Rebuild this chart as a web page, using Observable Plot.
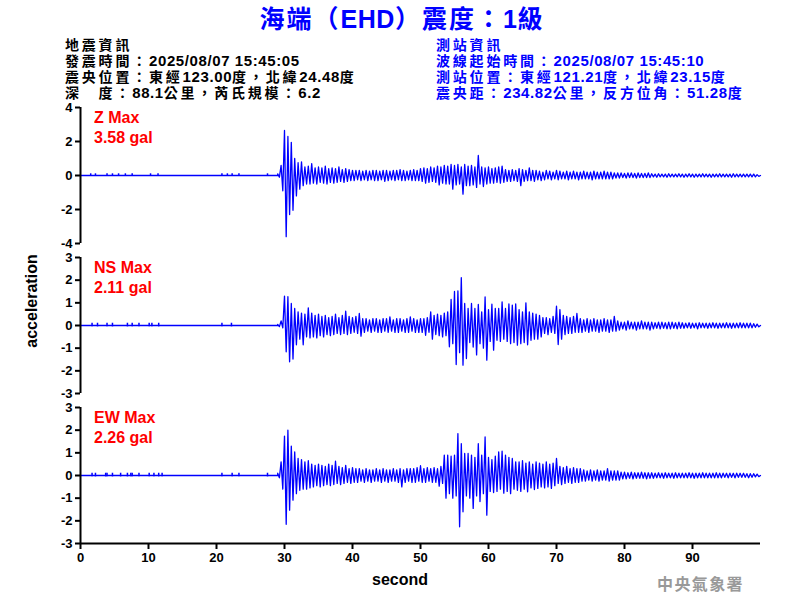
<!DOCTYPE html>
<html>
<head>
<meta charset="utf-8">
<script src="https://cdn.jsdelivr.net/npm/d3@7"></script>
<script src="https://cdn.jsdelivr.net/npm/@observablehq/plot@0.6"></script>
<style>
  html, body { margin: 0; padding: 0; background: #fff; }
  #root { position: relative; width: 800px; height: 600px; overflow: hidden; font-family: "Liberation Sans", Arial, "Noto Sans CJK TC", sans-serif; }
  .abs { position: absolute; white-space: nowrap; }
  .title { font-size: 25px; font-weight: bold; color: #0000ff; line-height: 30px; }
  .info { font-size: 15px; font-weight: bold; line-height: 16px; height: 16px; }
  .info span { display: inline-block; height: 16px; line-height: 16px; vertical-align: baseline; overflow: visible; }
  .info .cjk { font-family: "Noto Sans CJK TC", sans-serif; font-size: 14px; letter-spacing: 2.8px; }
  .cjk { font-family: "Noto Sans CJK TC", sans-serif; }
  .lat { letter-spacing: 0.6px; }
  .red { color: #ff0000; font-size: 16px; font-weight: bold; line-height: 19.5px; }
  .lab { font-size: 16px; font-weight: bold; color: #000; }
  .foot { font-family: "Noto Sans CJK TC", sans-serif; font-size: 16px; font-weight: bold; color: #999; letter-spacing: 1.4px; }
</style>
</head>
<body>
<div id="root"></div>
<script>
// ---------- text content ----------
const titleText = "海端（EHD）震度：1級";
const leftInfo = ["地震資訊", "發震時間：2025/08/07 15:45:05", "震央位置：東經123.00度，北緯24.48度", "深　度：88.1公里，芮氏規模：6.2"];
const rightInfo = ["測站資訊", "波線起始時間：2025/08/07 15:45:10", "測站位置：東經121.21度，北緯23.15度", "震央距：234.82公里，反方位角：51.28度"];
const channelNames = ["Z Max", "NS Max", "EW Max"];
const channelPeaks = ["3.58 gal", "2.11 gal", "2.26 gal"];
const xTicks = [0, 10, 20, 30, 40, 50, 60, 70, 80, 90];
const zTicks = [-4, -2, 0, 2, 4];
const hTicks = [-3, -2, -1, 0, 1, 2, 3];
const footer = "中央氣象署";

// ---------- waveform envelope (0.5 s bins from t = 29 s; hi = bin max, lo = bin min) ----------
const waveStart = 29;
const binStep = 0.5;

const zHi = [0.1, 0.6, 2.65, 2.3, 1.95, 1.0, 0.75, 0.8, 0.5, 0.55,
  0.7, 0.45, 0.5, 0.45, 0.55, 0.4, 0.45, 0.4, 0.5, 0.35,
  0.4, 0.35, 0.3, 0.3, 0.3, 0.25, 0.3, 0.25, 0.3, 0.3,
  0.25, 0.3, 0.3, 0.25, 0.3, 0.3, 0.35, 0.3, 0.25, 0.3,
  0.35, 0.3, 0.4, 0.45, 0.4, 0.5, 0.45, 0.55, 0.5, 0.6,
  0.55, 0.65, 0.6, 0.65, 0.5, 0.65, 0.55, 0.6, 0.5, 1.18,
  0.5, 0.45, 0.5, 0.4, 0.45, 0.5, 0.55, 0.35, 0.3, 0.35,
  0.3, 0.4, 0.35, 0.3, 0.45, 0.3, 0.3, 0.25, 0.2, 0.3,
  0.25, 0.2, 0.3, 0.25, 0.2, 0.25, 0.2, 0.25, 0.2, 0.2,
  0.25, 0.2, 0.2, 0.25, 0.2, 0.2, 0.25, 0.2, 0.2, 0.15,
  0.15, 0.15, 0.12, 0.15, 0.15, 0.12, 0.15, 0.12, 0.12, 0.15,
  0.1, 0.08, 0.1, 0.08, 0.08, 0.1, 0.08, 0.08, 0.1, 0.08,
  0.08, 0.1, 0.08, 0.08, 0.08, 0.1, 0.08, 0.08, 0.08, 0.08,
  0.1, 0.08, 0.08, 0.08, 0.1, 0.08, 0.08, 0.08, 0.08, 0.08,
  0.08, 0.05];
const zLo = [-0.1, -0.9, -3.6, -2.3, -2.05, -1.2, -0.8, -0.6, -0.5, -0.5,
  -0.45, -0.5, -0.4, -0.45, -0.5, -0.4, -0.45, -0.4, -0.35, -0.4,
  -0.35, -0.3, -0.3, -0.25, -0.3, -0.25, -0.3, -0.25, -0.3, -0.3,
  -0.25, -0.35, -0.3, -0.25, -0.3, -0.25, -0.3, -0.3, -0.25, -0.3,
  -0.3, -0.3, -0.35, -0.45, -0.4, -0.35, -0.4, -0.55, -0.45, -0.5,
  -0.5, -0.8, -0.55, -0.5, -1.1, -0.6, -0.6, -0.55, -0.7, -0.5,
  -0.65, -0.5, -0.45, -0.45, -0.4, -0.45, -0.4, -0.35, -0.35, -0.3,
  -0.35, -0.6, -0.35, -0.3, -0.3, -0.35, -0.25, -0.3, -0.25, -0.2,
  -0.25, -0.2, -0.25, -0.2, -0.2, -0.25, -0.2, -0.2, -0.25, -0.2,
  -0.2, -0.2, -0.25, -0.2, -0.2, -0.2, -0.2, -0.2, -0.2, -0.15,
  -0.15, -0.12, -0.15, -0.12, -0.12, -0.15, -0.12, -0.12, -0.12, -0.12,
  -0.08, -0.1, -0.08, -0.08, -0.1, -0.08, -0.08, -0.08, -0.08, -0.1,
  -0.08, -0.08, -0.1, -0.08, -0.08, -0.08, -0.08, -0.1, -0.08, -0.08,
  -0.08, -0.08, -0.08, -0.1, -0.08, -0.08, -0.08, -0.08, -0.08, -0.08,
  -0.08, -0.05];

const nsHi = [0.05, 0.2, 1.3, 1.27, 0.97, 0.75, 0.6, 0.55, 0.5, 0.78,
  0.55, 0.45, 0.5, 0.4, 0.45, 0.35, 0.4, 0.5, 0.35, 0.45,
  0.63, 0.4, 0.35, 0.4, 0.53, 0.3, 0.3, 0.25, 0.3, 0.3,
  0.25, 0.3, 0.3, 0.38, 0.25, 0.3, 0.3, 0.25, 0.3, 0.38,
  0.3, 0.25, 0.3, 0.3, 0.35, 0.6, 0.45, 0.5, 0.45, 0.55,
  0.6, 1.15, 1.5, 1.53, 2.11, 0.97, 0.75, 0.97, 0.75, 0.93,
  0.6, 1.26, 0.7, 0.94, 0.75, 0.75, 1.04, 0.75, 0.95, 0.9,
  0.95, 0.7, 0.6, 1.0, 0.6, 0.55, 0.5, 0.45, 0.35, 0.35,
  0.3, 0.4, 0.85, 0.7, 0.45, 0.4, 0.35, 0.4, 0.53, 0.3,
  0.25, 0.3, 0.25, 0.3, 0.25, 0.25, 0.3, 0.25, 0.25, 0.4,
  0.2, 0.15, 0.15, 0.2, 0.15, 0.15, 0.15, 0.2, 0.15, 0.15,
  0.15, 0.12, 0.15, 0.15, 0.12, 0.15, 0.15, 0.12, 0.15, 0.12,
  0.1, 0.12, 0.1, 0.1, 0.12, 0.1, 0.1, 0.1, 0.12, 0.1,
  0.1, 0.1, 0.12, 0.1, 0.1, 0.1, 0.12, 0.1, 0.1, 0.1,
  0.08, 0.06];
const nsLo = [-0.05, -0.1, -1.16, -1.6, -1.48, -0.85, -0.6, -0.85, -0.5, -0.55,
  -0.5, -0.55, -0.45, -0.5, -0.4, -0.45, -0.4, -0.35, -0.4, -0.35,
  -0.4, -0.35, -0.3, -0.35, -0.47, -0.3, -0.25, -0.3, -0.25, -0.3,
  -0.3, -0.25, -0.3, -0.25, -0.3, -0.3, -0.25, -0.3, -0.3, -0.25,
  -0.3, -0.3, -0.3, -0.43, -0.3, -0.6, -0.4, -0.45, -0.5, -0.45,
  -0.94, -0.8, -1.72, -1.2, -1.75, -1.46, -0.75, -0.95, -1.3, -0.8,
  -1.0, -1.53, -0.7, -1.09, -0.65, -0.7, -0.6, -0.7, -0.8, -0.75,
  -0.87, -0.8, -0.75, -0.85, -0.65, -0.6, -0.6, -0.5, -0.35, -0.4,
  -0.3, -0.35, -0.84, -0.6, -0.4, -0.35, -0.35, -0.3, -0.3, -0.3,
  -0.25, -0.3, -0.25, -0.25, -0.3, -0.25, -0.25, -0.3, -0.25, -0.25,
  -0.2, -0.15, -0.2, -0.15, -0.15, -0.2, -0.15, -0.15, -0.15, -0.2,
  -0.15, -0.12, -0.15, -0.12, -0.15, -0.15, -0.12, -0.15, -0.12, -0.12,
  -0.1, -0.12, -0.1, -0.15, -0.1, -0.1, -0.12, -0.1, -0.1, -0.12,
  -0.1, -0.1, -0.1, -0.12, -0.1, -0.1, -0.1, -0.1, -0.1, -0.1,
  -0.08, -0.06];

const ewHi = [0.1, 0.6, 1.74, 2.0, 1.3, 1.04, 0.75, 0.7, 0.6, 0.65,
  0.5, 0.45, 0.5, 0.45, 0.4, 0.5, 0.45, 0.63, 0.4, 0.35,
  0.45, 0.3, 0.35, 0.3, 0.3, 0.25, 0.3, 0.25, 0.25, 0.3,
  0.25, 0.3, 0.25, 0.25, 0.3, 0.25, 0.3, 0.25, 0.3, 0.3,
  0.3, 0.35, 0.43, 0.3, 0.35, 0.3, 0.35, 0.3, 0.4, 0.9,
  0.9, 0.85, 0.9, 1.85, 1.4, 0.97, 0.97, 0.9, 0.8, 1.4,
  0.9, 1.7, 0.8, 0.7, 0.85, 1.04, 1.07, 0.9, 0.8, 0.75,
  0.6, 0.6, 0.65, 0.55, 0.6, 0.5, 0.6, 0.55, 0.5, 0.6,
  0.5, 0.55, 0.75, 0.4, 0.35, 0.4, 0.3, 0.35, 0.3, 0.3,
  0.25, 0.2, 0.25, 0.2, 0.25, 0.2, 0.2, 0.3, 0.2, 0.2,
  0.2, 0.15, 0.15, 0.12, 0.15, 0.12, 0.12, 0.15, 0.12, 0.12,
  0.12, 0.1, 0.12, 0.1, 0.12, 0.1, 0.1, 0.12, 0.1, 0.1,
  0.1, 0.12, 0.1, 0.1, 0.1, 0.12, 0.1, 0.1, 0.1, 0.12,
  0.1, 0.1, 0.1, 0.1, 0.1, 0.1, 0.1, 0.1, 0.08, 0.08,
  0.08, 0.06];
const ewLo = [-0.1, -0.6, -2.15, -1.53, -1.09, -0.8, -0.65, -0.6, -0.6, -0.55,
  -0.5, -0.45, -0.5, -0.45, -0.4, -0.45, -0.4, -0.35, -0.4, -0.35,
  -0.3, -0.35, -0.3, -0.3, -0.25, -0.3, -0.25, -0.3, -0.25, -0.25,
  -0.3, -0.25, -0.3, -0.25, -0.25, -0.3, -0.5, -0.3, -0.25, -0.3,
  -0.3, -0.25, -0.3, -0.3, -0.25, -0.3, -0.3, -0.47, -0.35, -1.0,
  -0.8, -1.0, -0.9, -2.26, -1.6, -0.9, -1.0, -1.45, -0.9, -1.15,
  -0.8, -1.75, -0.7, -0.75, -0.7, -0.6, -0.78, -0.7, -0.8, -0.6,
  -0.65, -0.7, -0.6, -0.72, -0.55, -0.62, -0.57, -0.5, -0.55, -0.5,
  -0.57, -0.45, -0.35, -0.4, -0.35, -0.3, -0.35, -0.3, -0.3, -0.25,
  -0.25, -0.2, -0.25, -0.2, -0.25, -0.2, -0.2, -0.25, -0.2, -0.2,
  -0.2, -0.15, -0.15, -0.12, -0.15, -0.12, -0.12, -0.12, -0.15, -0.12,
  -0.12, -0.1, -0.1, -0.12, -0.1, -0.1, -0.12, -0.1, -0.1, -0.1,
  -0.1, -0.1, -0.12, -0.1, -0.1, -0.1, -0.1, -0.1, -0.1, -0.1,
  -0.1, -0.08, -0.1, -0.08, -0.1, -0.08, -0.08, -0.08, -0.1, -0.08,
  -0.06, -0.05];

// small pre-event blips (seconds) and their size
const zBlips = [1.5, 2.2, 3.9, 4.7, 5.6, 6.6, 7.6, 10.3, 11.4, 20.8, 21.6, 22.3, 23.3, 27.5];
const nsBlips = [1.7, 2.5, 3.9, 4.7, 6.9, 7.6, 8.6, 10.1, 10.5, 11.5, 20.8, 22.2];
const ewBlips = [1.7, 2.2, 3.7, 3.9, 4.7, 5.9, 6.9, 7.4, 7.6, 8.6, 10.1, 10.8, 11.5, 12.0, 20.8, 22.3, 23.3, 27.5];
const blipHi = 0.1, blipLo = -0.06;

// ---------- build ----------
const BLUE = "#0000ff";
const FONT = "'Liberation Sans', Arial, sans-serif";
const root = document.getElementById("root");

function rich(s) {
  return s.replace(/([\u3000-\u9fff\uff00-\uffef]+)|([^\u3000-\u9fff\uff00-\uffef]+)/g,
    (m, c, l) => c ? `<span class="cjk">${c}</span>` : `<span class="lat">${l}</span>`);
}
function addDiv(cls, html, css) {
  const d = document.createElement("div");
  d.className = "abs " + cls;
  d.innerHTML = html;
  Object.assign(d.style, css);
  root.appendChild(d);
  return d;
}

function wave(hi, lo) {
  const pts = [{t: 0, v: 0}, {t: waveStart, v: 0}];
  hi.forEach((h, i) => {
    const t = waveStart + i * binStep;
    pts.push({t, v: h}, {t: t + binStep / 2, v: lo[i]});
  });
  pts.push({t: 100, v: 0});
  return pts;
}

function panel({top, height, mb, dom, ticks, hi, lo, blips, bottom}) {
  const marks = [
    Plot.line(wave(hi, lo), {x: "t", y: "v", stroke: BLUE, strokeWidth: 1.3}),
    Plot.ruleX(blips, {x: d => d, y1: blipLo, y2: blipHi, stroke: BLUE, strokeWidth: 1.5}),
    Plot.ruleX([0], {stroke: "black", strokeWidth: 2}),
    Plot.axisY({ticks, tickSize: 5, tickPadding: 3, tickFormat: d => String(d), fontSize: 13, fontWeight: "bold", strokeWidth: 2, label: null})
  ];
  if (bottom) {
    marks.push(Plot.ruleY([dom[0]], {stroke: "black", strokeWidth: 2}));
    marks.push(Plot.axisX({ticks: xTicks, tickSize: 6, tickPadding: 3, tickFormat: d => String(d), fontSize: 13, fontWeight: "bold", strokeWidth: 2, label: null}));
  }
  const svg = Plot.plot({
    width: 800, height,
    marginLeft: 80, marginRight: 40, marginTop: 7, marginBottom: mb,
    x: {domain: [0, 100], axis: bottom ? undefined : null},
    y: {domain: dom},
    style: {fontFamily: FONT, color: "black", background: "transparent", overflow: "visible"},
    marks
  });
  svg.style.position = "absolute";
  svg.style.left = "0px";
  svg.style.top = top + "px";
  root.appendChild(svg);
}

panel({top: 100, height: 150, mb: 7, dom: [-4, 4], ticks: zTicks, hi: zHi, lo: zLo, blips: zBlips});
panel({top: 250, height: 150, mb: 7, dom: [-3, 3], ticks: hTicks, hi: nsHi, lo: nsLo, blips: nsBlips});
panel({top: 400, height: 200, mb: 57, dom: [-3, 3], ticks: hTicks, hi: ewHi, lo: ewLo, blips: ewBlips, bottom: true});

// title
const tt = addDiv("title", rich(titleText), {left: "0px", width: "804px", textAlign: "center", top: "2px"});
tt.querySelectorAll(".cjk").forEach(s => { s.style.letterSpacing = "2px"; s.style.lineHeight = "30px"; });
tt.querySelectorAll(".lat").forEach(s => { s.style.lineHeight = "30px"; });

// info blocks: one div per line at fixed positions
const lineTops = [36, 52, 68, 84];
leftInfo.forEach((s, i) => addDiv("info", rich(s), {left: "65px", top: lineTops[i] + "px", color: "#000"}));
rightInfo.forEach((s, i) => addDiv("info", rich(s), {left: "436px", top: lineTops[i] + "px", color: "#0000ff"}));

// channel annotations
[107, 257, 407].forEach((y, i) => {
  addDiv("red", channelNames[i] + "<br>" + channelPeaks[i], {left: "94px", top: (y + 1) + "px"});
});

// axis labels
addDiv("lab", "second", {left: "0px", width: "800px", textAlign: "center", top: "571px"});
addDiv("lab", "acceleration", {left: "-18px", top: "292px", width: "100px", textAlign: "center", transform: "rotate(-90deg)"});

// footer
addDiv("foot", footer, {left: "657px", top: "571px"});
</script>
</body>
</html>
